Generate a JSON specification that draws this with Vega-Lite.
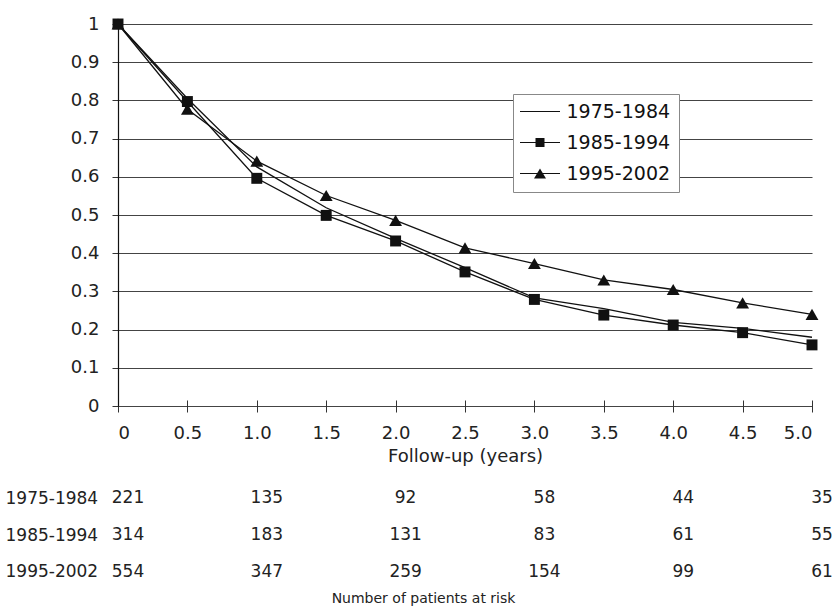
{
  "$schema": "https://vega.github.io/schema/vega-lite/v6.json",
  "padding": {"left": 5, "top": 15, "right": 2, "bottom": 2},
  "background": "white",
  "config": {
    "font": "DejaVu Sans",
    "view": {"stroke": null},
    "axis": {"labelColor": "#222", "titleColor": "#222", "labelFont": "DejaVu Sans", "titleFont": "DejaVu Sans", "titleFontWeight": "normal"},
    "text": {"font": "DejaVu Sans"}
  },
  "spacing": 74,
  "bounds": "flush",
  "resolve": {"scale": {"x": "independent", "y": "independent"}},
  "vconcat": [
    {
      "width": 694,
      "height": 382,
      "data": {
        "values": [
          {"series": "1975-1984", "t": 0, "s": 1},
          {"series": "1975-1984", "t": 0.5, "s": 0.805},
          {"series": "1975-1984", "t": 1, "s": 0.626},
          {"series": "1975-1984", "t": 1.5, "s": 0.519},
          {"series": "1975-1984", "t": 2, "s": 0.439},
          {"series": "1975-1984", "t": 2.5, "s": 0.362},
          {"series": "1975-1984", "t": 3, "s": 0.283},
          {"series": "1975-1984", "t": 3.5, "s": 0.255},
          {"series": "1975-1984", "t": 4, "s": 0.219},
          {"series": "1975-1984", "t": 4.5, "s": 0.203},
          {"series": "1975-1984", "t": 5, "s": 0.18},
          {"series": "1985-1994", "t": 0, "s": 1},
          {"series": "1985-1994", "t": 0.5, "s": 0.797},
          {"series": "1985-1994", "t": 1, "s": 0.596},
          {"series": "1985-1994", "t": 1.5, "s": 0.499},
          {"series": "1985-1994", "t": 2, "s": 0.432},
          {"series": "1985-1994", "t": 2.5, "s": 0.351},
          {"series": "1985-1994", "t": 3, "s": 0.279},
          {"series": "1985-1994", "t": 3.5, "s": 0.238},
          {"series": "1985-1994", "t": 4, "s": 0.212},
          {"series": "1985-1994", "t": 4.5, "s": 0.192},
          {"series": "1985-1994", "t": 5, "s": 0.16},
          {"series": "1995-2002", "t": 0, "s": 1},
          {"series": "1995-2002", "t": 0.5, "s": 0.777},
          {"series": "1995-2002", "t": 1, "s": 0.641},
          {"series": "1995-2002", "t": 1.5, "s": 0.551},
          {"series": "1995-2002", "t": 2, "s": 0.486},
          {"series": "1995-2002", "t": 2.5, "s": 0.414},
          {"series": "1995-2002", "t": 3, "s": 0.373},
          {"series": "1995-2002", "t": 3.5, "s": 0.33},
          {"series": "1995-2002", "t": 4, "s": 0.305},
          {"series": "1995-2002", "t": 4.5, "s": 0.27},
          {"series": "1995-2002", "t": 5, "s": 0.24}
        ]
      },
      "encoding": {
        "x": {
          "field": "t", "type": "quantitative",
          "scale": {"domain": [0, 5], "nice": false, "zero": false},
          "axis": {
            "values": [0, 0.5, 1, 1.5, 2, 2.5, 3, 3.5, 4, 4.5, 5],
            "labelExpr": "datum.value == 0 ? '0' : format(datum.value, '.1f')",
            "title": "Follow-up (years)",
            "domain": false, "grid": false,
            "offset": -6, "tickSize": 12, "tickColor": "#333", "tickWidth": 1,
            "labelFontSize": 18, "labelPadding": 12,
            "titleFontSize": 18, "titlePadding": 5
          }
        },
        "y": {
          "field": "s", "type": "quantitative",
          "scale": {"domain": [0, 1], "nice": false},
          "axis": {
            "values": [0, 0.1, 0.2, 0.3, 0.4, 0.5, 0.6, 0.7, 0.8, 0.9, 1],
            "format": "~g",
            "title": null,
            "grid": true, "gridColor": "#444", "gridWidth": 1,
            "domainColor": "#111", "domainWidth": 1.2,
            "tickColor": "#333", "tickSize": 6,
            "labelFontSize": 18, "labelPadding": 13
          }
        }
      },
      "layer": [
        {
          "mark": {"type": "line", "color": "#111", "strokeWidth": 1.3},
          "encoding": {
            "detail": {"field": "series", "type": "nominal"}
          }
        },
        {
          "transform": [{"filter": "datum.series == '1985-1994'"}],
          "mark": {"type": "point", "shape": "square", "filled": true, "color": "#111", "opacity": 1, "size": 120},
          "encoding": {}
        },
        {
          "transform": [{"filter": "datum.series == '1995-2002'"}],
          "mark": {"type": "point", "shape": "triangle-up", "filled": true, "color": "#111", "opacity": 1, "size": 165},
          "encoding": {}
        },
        {
          "mark": {"type": "point", "filled": true, "color": "#111", "opacity": 0},
          "encoding": {
            "shape": {
              "field": "series", "type": "nominal",
              "scale": {
                "domain": ["1975-1984", "1985-1994", "1995-2002"],
                "range": [
                  "M-4,-0.11H4V0.11H-4Z",
                  "M-4,-0.11H4V0.11H-4ZM-0.9,-0.9H0.9V0.9H-0.9Z",
                  "M-4,-0.11H4V0.11H-4ZM0,-1L1.2,1H-1.2Z"
                ]
              },
              "legend": {
                "title": null,
                "orient": "none", "legendX": 395, "legendY": 70,
                "direction": "vertical",
                "fillColor": "white", "strokeColor": "#888",
                "padding": 8,
                "symbolSize": 100,
                "symbolOffset": 9.5,
                "symbolOpacity": 1,
                "symbolFillColor": "#111",
                "symbolStrokeWidth": 0,
                "labelFontSize": 19, "labelColor": "#111", "labelOffset": 17,
                "rowPadding": 11,
                "encode": {
                  "symbols": {
                    "fill": {"value": "#111"},
                    "opacity": {"value": 1}
                  }
                }
              }
            }
          }
        }
      ]
    },
    {
      "width": 694,
      "height": 110,
      "data": {
        "values": [
          {"series": "1975-1984", "year": 0, "n": 221},
          {"series": "1975-1984", "year": 1, "n": 135},
          {"series": "1975-1984", "year": 2, "n": 92},
          {"series": "1975-1984", "year": 3, "n": 58},
          {"series": "1975-1984", "year": 4, "n": 44},
          {"series": "1975-1984", "year": 5, "n": 35},
          {"series": "1985-1994", "year": 0, "n": 314},
          {"series": "1985-1994", "year": 1, "n": 183},
          {"series": "1985-1994", "year": 2, "n": 131},
          {"series": "1985-1994", "year": 3, "n": 83},
          {"series": "1985-1994", "year": 4, "n": 61},
          {"series": "1985-1994", "year": 5, "n": 55},
          {"series": "1995-2002", "year": 0, "n": 554},
          {"series": "1995-2002", "year": 1, "n": 347},
          {"series": "1995-2002", "year": 2, "n": 259},
          {"series": "1995-2002", "year": 3, "n": 154},
          {"series": "1995-2002", "year": 4, "n": 99},
          {"series": "1995-2002", "year": 5, "n": 61}
        ]
      },
      "mark": {"type": "text", "fontSize": 17, "dx": 10, "color": "#222"},
      "encoding": {
        "x": {
          "field": "year", "type": "quantitative",
          "scale": {"domain": [0, 5], "nice": false, "zero": false},
          "axis": {
            "title": "Number of patients at risk",
            "labels": false, "ticks": false, "domain": false, "grid": false,
            "titleX": 305, "titleFontSize": 14, "titlePadding": 1
          }
        },
        "y": {
          "field": "series", "type": "nominal",
          "sort": ["1975-1984", "1985-1994", "1995-2002"],
          "scale": {"paddingInner": 0, "paddingOuter": 0},
          "axis": {
            "title": null, "labelAlign": "left", "labelPadding": 113,
            "ticks": false, "tickSize": 0, "domain": false, "grid": false,
            "labelFontSize": 17, "labelColor": "#222"
          }
        },
        "text": {"field": "n", "type": "quantitative"}
      }
    }
  ]
}
